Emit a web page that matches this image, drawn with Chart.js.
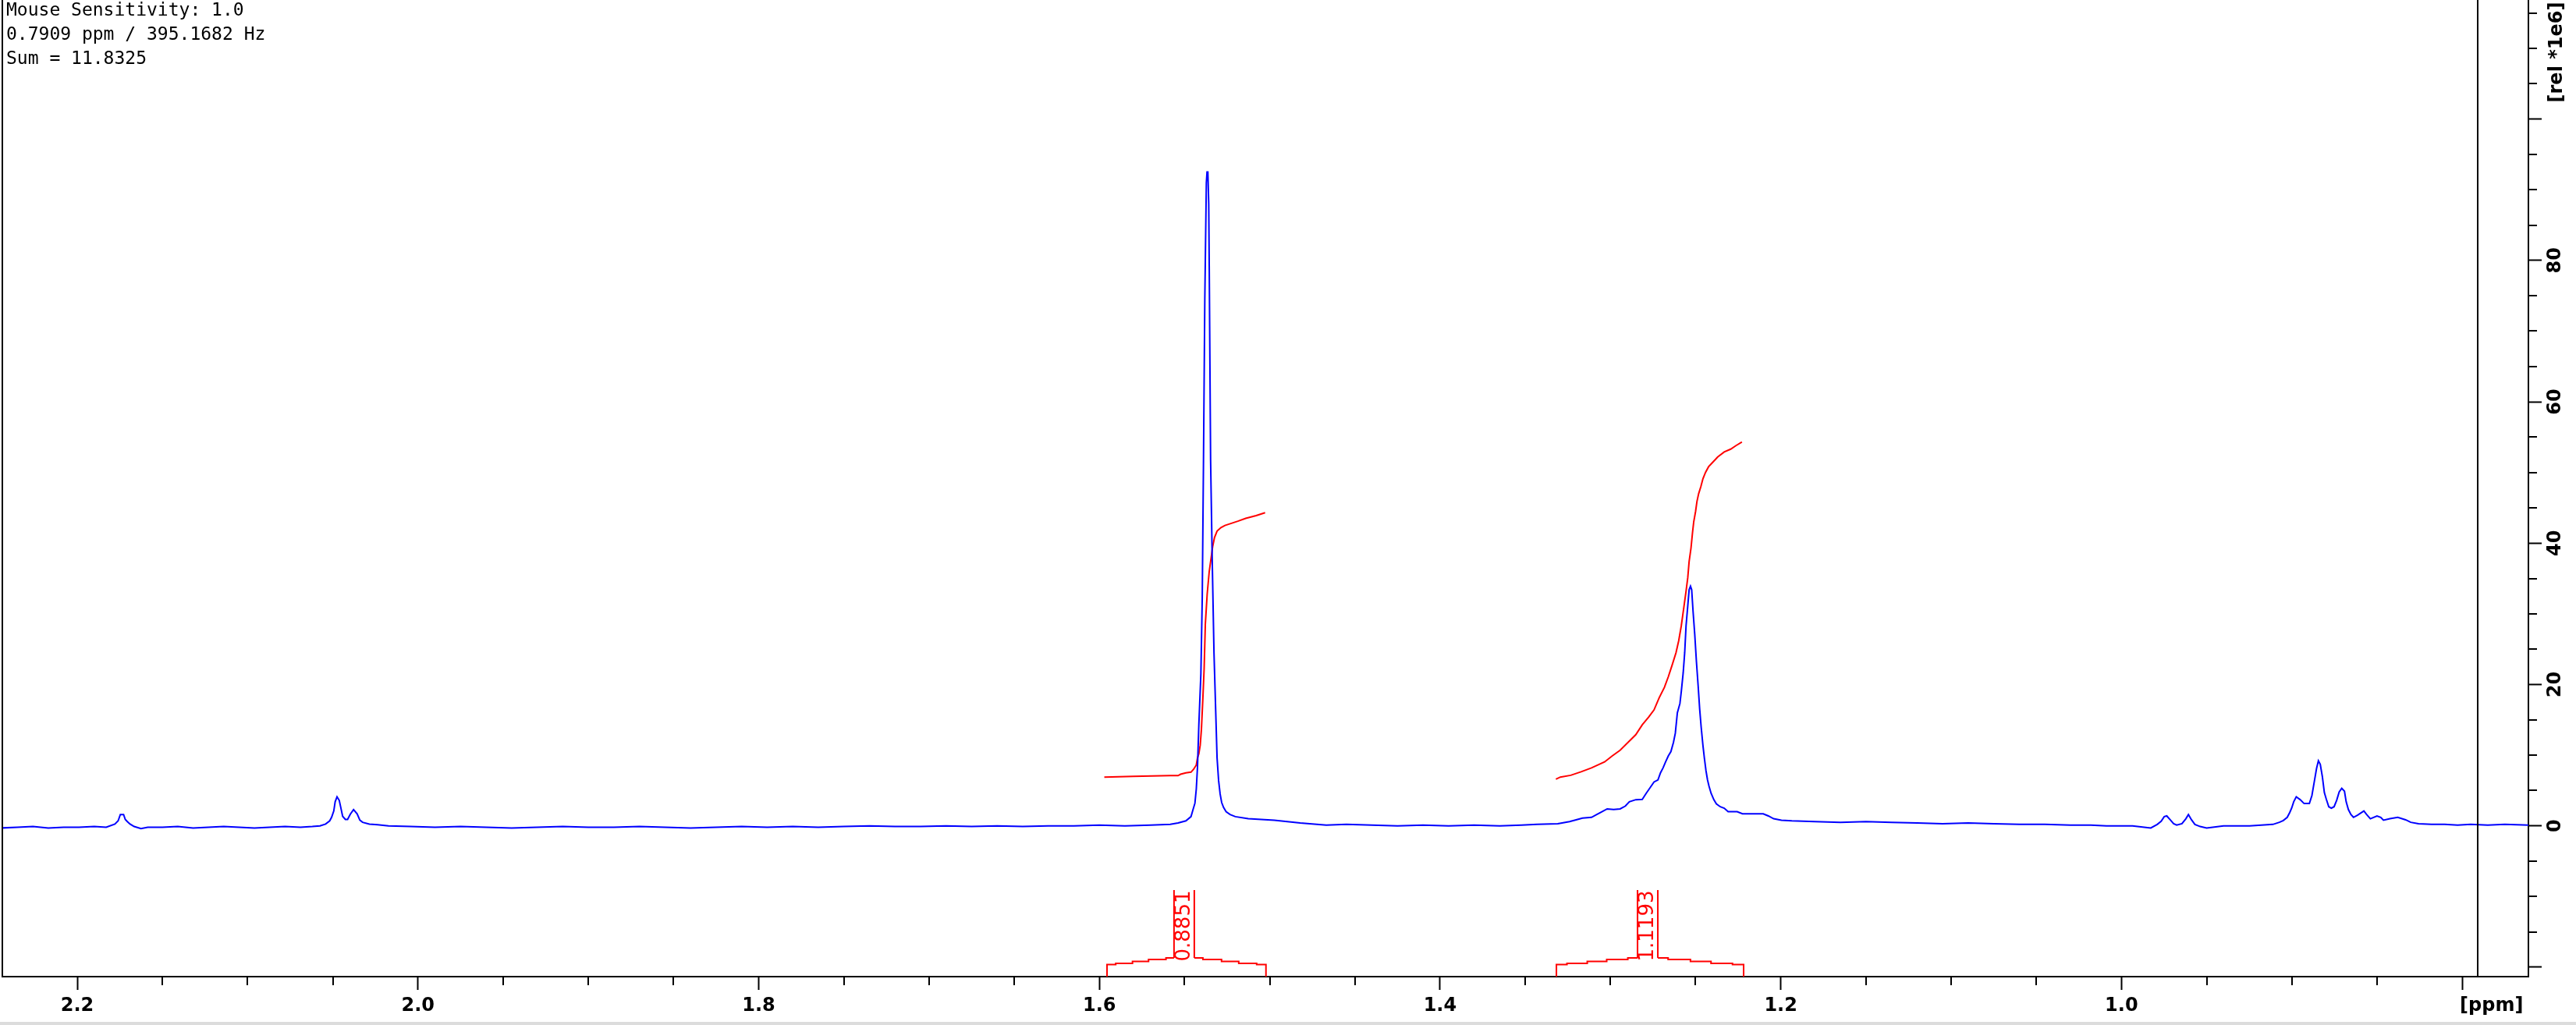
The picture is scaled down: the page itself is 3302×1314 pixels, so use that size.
<!DOCTYPE html>
<html><head><meta charset="utf-8">
<script src="https://cdn.jsdelivr.net/npm/chart.js@4.4.1/dist/chart.umd.min.js"></script>
<style>html,body{margin:0;padding:0;background:#fff;overflow:hidden}canvas{display:block}</style>
</head><body>
<canvas id="c" width="3302" height="1314"></canvas>
<script>
// ---- spectrum (ppm, intensity in 1e6 units) ----
const specPpm = [
2.244,2.235,2.226,2.217,2.208,2.199,2.190,2.183,2.1779,2.1760,2.1747,2.1728,2.1718,2.1706,2.1690,2.1666,2.1626,2.1586,
2.150,2.141,2.132,2.123,2.114,2.105,2.096,2.087,2.078,2.069,2.062,2.0575,
2.0542,2.0518,2.0507,2.0494,2.0486,2.0475,2.0462,2.0453,2.0442,2.0426,2.0413,2.0397,2.0378,2.0357,2.0341,2.0325,2.0285,2.0237,2.0173,2.0044,
1.990,1.975,1.960,1.945,1.930,1.915,1.900,1.885,1.870,1.855,1.840,1.825,1.810,1.795,1.780,1.765,1.750,1.735,1.720,1.705,1.690,1.675,1.660,1.645,1.630,1.615,1.600,1.585,1.570,
1.5584,1.5538,1.5492,1.5462,1.5450,1.5439,1.5431,1.5424,1.5416,1.5404,1.5396,1.5389,1.5381,1.5372,1.5368,1.5363,1.5358,1.5355,1.5347,1.5337,1.5327,1.5317,1.5309,1.5300,1.5291,1.5282,1.5271,1.5256,1.5233,1.5202,1.5126,1.4973,1.4821,1.4668,
1.455,1.440,1.425,1.410,1.395,1.380,1.365,
1.3523,1.3431,1.3309,1.3240,1.3210,1.3164,1.3111,1.3080,1.3050,1.3019,1.2981,1.2943,1.2912,1.2889,1.2851,1.2813,1.2790,1.2767,1.2744,1.2721,1.2706,1.2691,1.2676,1.2660,1.2645,1.2630,1.2619,1.2607,1.2592,1.2584,1.2573,1.2564,1.2556,1.2546,1.2538,1.2530,1.2523,1.2515,1.2505,1.2495,1.2485,1.2476,1.2467,1.2457,1.2448,1.2439,1.2430,1.2421,1.2409,1.2393,1.2378,1.2355,1.2332,1.2309,1.2256,1.2225,1.2103,1.2073,1.2042,1.1996,1.1935,
1.180,1.165,1.150,1.135,1.120,1.105,1.090,1.075,1.060,1.045,1.030,1.018,
1.0088,0.9935,0.9828,0.9790,0.9767,0.9749,0.9734,0.9714,0.9694,0.9676,0.9645,0.9622,0.9607,0.9589,0.9569,0.9538,0.9500,0.9401,0.9248,
0.9111,0.9073,0.9050,0.9027,0.9012,0.9001,0.8989,0.8974,0.8951,0.8928,0.8897,0.8882,0.8867,0.8855,0.8844,0.8833,0.8821,0.8809,0.8798,0.8783,0.8768,0.8752,0.8737,0.8722,0.8707,0.8691,0.8681,0.8668,0.8653,0.8638,0.8615,0.8577,0.8561,0.8539,0.8500,0.8478,0.8462,0.8424,0.8378,0.8332,0.8302,0.8256,0.8180,0.8103,0.8027,
0.795,0.785,0.775,0.761
];
const specVal = [
-0.3,-0.2,-0.1,-0.3,-0.2,-0.2,-0.1,-0.2,0.25,0.7,1.6,1.6,0.9,0.6,0.25,-0.1,-0.4,-0.2,
-0.2,-0.1,-0.3,-0.2,-0.1,-0.2,-0.3,-0.2,-0.1,-0.2,-0.1,0.0,
0.25,0.7,1.2,2.1,3.4,4.1,3.6,2.6,1.35,0.9,0.9,1.65,2.3,1.7,0.8,0.5,0.25,0.15,0.0,-0.1,
-0.2,-0.1,-0.2,-0.3,-0.2,-0.1,-0.2,-0.2,-0.1,-0.2,-0.3,-0.2,-0.1,-0.2,-0.1,-0.2,-0.1,0.0,-0.1,-0.1,0.0,-0.1,0.0,-0.1,0.0,0.0,0.1,0.0,0.1,
0.2,0.4,0.7,1.3,2.3,3.2,5.2,8.3,14.3,21.5,32.3,50.9,74.5,91.0,92.5,92.5,88.0,79.2,51.8,37.0,24.4,16.2,9.6,6.4,4.5,3.3,2.6,2.0,1.6,1.3,1.0,0.8,0.4,0.1,
0.2,0.1,0.0,0.1,0.0,0.1,0.0,
0.1,0.2,0.3,0.6,0.8,1.1,1.2,1.6,2.0,2.4,2.3,2.4,2.8,3.4,3.7,3.75,4.6,5.4,6.2,6.5,7.5,8.2,9.05,9.9,10.5,11.8,13.1,16.0,17.3,19.0,21.6,24.5,28.3,31.1,33.4,33.9,33.4,30.4,27.1,23.2,19.8,16.5,13.9,11.4,9.5,7.8,6.5,5.6,4.6,3.7,3.1,2.7,2.5,2.0,2.0,1.7,1.7,1.4,1.0,0.8,0.7,
0.6,0.5,0.6,0.5,0.4,0.3,0.4,0.3,0.2,0.2,0.1,0.1,
0.0,0.0,-0.3,0.2,0.65,1.3,1.4,0.85,0.3,0.1,0.3,1.0,1.6,0.85,0.2,-0.1,-0.3,0.0,0.0,
0.2,0.5,0.75,1.2,1.9,2.5,3.4,4.1,3.7,3.15,3.15,4.3,6.4,8.1,9.2,8.7,7.0,4.7,3.8,2.7,2.5,2.7,3.6,4.8,5.3,4.9,3.4,2.3,1.6,1.2,1.5,2.1,1.6,1.0,1.4,1.2,0.8,1.0,1.2,0.85,0.5,0.3,0.2,0.2,0.1,
0.2,0.1,0.2,0.1
];
// ---- integral curves ----
const int1Ppm = [1.5971,1.580,1.5584,1.5538,1.5523,1.5492,1.5462,1.5447,1.5431,1.5424,1.5416,1.5408,1.5401,1.5393,1.5385,1.5378,1.5367,1.5355,1.5344,1.5335,1.5324,1.5309,1.5286,1.5263,1.5225,1.5187,1.5141,1.5080,1.5027];
const int1Val = [6.9,7.0,7.1,7.1,7.3,7.5,7.6,8.0,8.6,9.6,10.2,11.4,13.6,17.7,22.2,28.5,32.8,36.0,37.9,39.5,40.8,41.7,42.2,42.5,42.8,43.1,43.5,43.9,44.3];
const int2Ppm = [1.3320,1.3294,1.3233,1.3172,1.3111,1.3034,1.2989,1.2943,1.2897,1.2851,1.2813,1.2775,1.2744,1.2714,1.2683,1.2660,1.2637,1.2615,1.2599,1.2584,1.2569,1.2556,1.2546,1.2538,1.2527,1.2518,1.2511,1.2500,1.2492,1.2482,1.2469,1.2457,1.2442,1.2424,1.2401,1.2370,1.2332,1.2294,1.2263,1.2228];
const int2Val = [6.6,6.9,7.15,7.65,8.2,9.05,9.9,10.7,11.8,12.9,14.3,15.4,16.4,18.1,19.6,21.1,22.8,24.5,26.2,28.3,30.9,33.2,35.1,37.4,39.3,41.5,43.0,44.5,45.9,47.0,48.0,49.1,50.0,50.8,51.4,52.2,52.9,53.3,53.8,54.3];
const intStart = [1.5955, 1.3317];
const intEnd = [1.5022, 1.2218];
const intLabels = ['0.8851', '1.1193'];
// ---- axes ----
const xMajorTicks = [0.8, 1.0, 1.2, 1.4, 1.6, 1.8, 2.0, 2.2];
const xMajorLabels = ['', '1.0', '1.2', '1.4', '1.6', '1.8', '2.0', '2.2'];
const xUnitLabel = '[ppm]';
const xUnitTick = 0.8;
const xMinorTicks = [0.85,0.9,0.95,1.05,1.1,1.15,1.25,1.3,1.35,1.45,1.5,1.55,1.65,1.7,1.75,1.85,1.9,1.95,2.05,2.1,2.15];
const yMajorTicks = [-20, 0, 20, 40, 60, 80, 100];
const yLabelTicks = [0, 20, 40, 60, 80];
const yLabels = ['0', '20', '40', '60', '80'];
const yMinorTicks = [-15,-10,-5,5,10,15,25,30,35,45,50,55,65,70,75,85,90,95,105,110,115];
const yTitle = '[rel *1e6]';
const infoLines = ['Mouse Sensitivity: 1.0', '0.7909 ppm / 395.1682 Hz', 'Sum = 11.8325'];
const cursorPpm = 0.7909;
const X_MIN = 0.76112, X_MAX = 2.24397, Y_MIN = -21.34, Y_MAX = 116.85;

const TICK_FONT = {family: '"DejaVu Sans"', weight: 'bold', size: 24};
const XPAD = 6;

const pts = (xs, ys) => xs.map((x, i) => ({x: x, y: ys[i]}));

const overlay = {
  id: 'overlay',
  afterDraw(chart) {
    const ctx = chart.ctx, xs = chart.scales.x, ys = chart.scales.y, ca = chart.chartArea;
    ctx.save();
    ctx.fillStyle = '#000';
    // left frame line
    ctx.fillRect(ca.left - 1, 0, 2, ca.bottom + 1);
    // cursor line
    const cx = Math.round(xs.getPixelForValue(cursorPpm));
    ctx.fillRect(cx - 1, 0, 2, ca.bottom);
    // minor ticks
    xMinorTicks.forEach(v => { const p = Math.round(xs.getPixelForValue(v)); ctx.fillRect(p - 1, ca.bottom, 2, 11); });
    yMinorTicks.forEach(v => { const p = Math.round(ys.getPixelForValue(v)); ctx.fillRect(ca.right, p - 1, 11, 2); });
    // unit label on x
    ctx.font = 'bold 24px "DejaVu Sans"';
    ctx.textAlign = 'left'; ctx.textBaseline = 'middle';
    ctx.fillText(xUnitLabel, xs.getPixelForValue(xUnitTick) - 3, ca.bottom + 17 + XPAD + 14.4);
    // y labels rotated
    ctx.font = 'bold 24px "DejaVu Sans"';
    ctx.textAlign = 'center'; ctx.textBaseline = 'middle';
    yLabelTicks.forEach((v, i) => {
      ctx.save(); ctx.translate(ca.right + 35, ys.getPixelForValue(v)); ctx.rotate(-Math.PI / 2);
      ctx.fillText(yLabels[i], 0, 0); ctx.restore();
    });
    ctx.save(); ctx.translate(ca.right + 37, 67); ctx.rotate(-Math.PI / 2);
    ctx.fillText(yTitle, 0, 0); ctx.restore();
    // integral brackets
    ctx.strokeStyle = '#ff0000'; ctx.fillStyle = '#ff0000'; ctx.lineWidth = 2;
    const fr = [0, 0.13, 0.38, 0.62, 0.88, 1];
    const lv = [15.5, 17, 19.5, 22, 24];
    intStart.forEach((s, i) => {
      const xa = xs.getPixelForValue(s), xb = xs.getPixelForValue(intEnd[i]);
      const xm = (xa + xb) / 2 - 3, hw = 13, b = ca.bottom;
      const L = (xm - hw) - xa, R = xb - (xm + hw);
      ctx.beginPath();
      ctx.moveTo(xa, b); ctx.lineTo(xa, b - lv[0]);
      for (let k = 0; k < 5; k++) {
        ctx.lineTo(xa + fr[k + 1] * L, b - lv[k]);
        if (k < 4) ctx.lineTo(xa + fr[k + 1] * L, b - lv[k + 1]);
      }
      ctx.moveTo(xb, b); ctx.lineTo(xb, b - lv[0]);
      for (let k = 0; k < 5; k++) {
        ctx.lineTo(xb - fr[k + 1] * R, b - lv[k]);
        if (k < 4) ctx.lineTo(xb - fr[k + 1] * R, b - lv[k + 1]);
      }
      ctx.moveTo(xm - hw, b - 24); ctx.lineTo(xm - hw, b - 111);
      ctx.moveTo(xm + hw, b - 24); ctx.lineTo(xm + hw, b - 111);
      ctx.stroke();
      ctx.save(); ctx.translate(xm, b - 110.5); ctx.rotate(-Math.PI / 2);
      ctx.font = '26px "DejaVu Sans"'; ctx.textAlign = 'right'; ctx.textBaseline = 'middle';
      ctx.fillText(intLabels[i], 0, 0); ctx.restore();
    });
    // info text
    ctx.fillStyle = '#000'; ctx.font = '23px "DejaVu Sans Mono"';
    ctx.textAlign = 'left'; ctx.textBaseline = 'alphabetic';
    infoLines.forEach((t, i) => ctx.fillText(t, 8, 20 + i * 31));
    // bottom strip
    ctx.fillStyle = '#dcdcdc'; ctx.fillRect(0, 1310, chart.width, 4);
    ctx.restore();
  }
};

const near = (a, b) => Math.abs(a - b) < 1e-6;

new Chart(document.getElementById('c'), {
  type: 'line',
  data: {
    datasets: [
      {data: pts(specPpm, specVal), borderColor: '#0000ff', borderWidth: 2, pointRadius: 0, tension: 0},
      {data: pts(int1Ppm, int1Val), borderColor: '#ff0000', borderWidth: 2, pointRadius: 0, tension: 0},
      {data: pts(int2Ppm, int2Val), borderColor: '#ff0000', borderWidth: 2, pointRadius: 0, tension: 0}
    ]
  },
  options: {
    responsive: false, animation: false, devicePixelRatio: 1,
    layout: {padding: {left: 3, right: 0, top: 0, bottom: 0}},
    plugins: {legend: {display: false}, tooltip: {enabled: false}},
    scales: {
      x: {
        type: 'linear', reverse: true, min: X_MIN, max: X_MAX,
        afterBuildTicks: s => { s.ticks = xMajorTicks.map(v => ({value: v})); },
        afterFit: s => { s.height = 62; },
        border: {display: true, color: '#000', width: 2},
        grid: {drawOnChartArea: false, drawTicks: true, tickLength: 17, tickWidth: 2, tickColor: '#000'},
        ticks: {
          autoSkip: false, maxRotation: 0, minRotation: 0, padding: XPAD, color: '#000', font: TICK_FONT,
          callback: v => { const i = xMajorTicks.findIndex(t => near(t, v)); return i >= 0 ? xMajorLabels[i] : ''; }
        }
      },
      y: {
        type: 'linear', position: 'right', min: Y_MIN, max: Y_MAX,
        afterBuildTicks: s => { s.ticks = yMajorTicks.map(v => ({value: v})); },
        afterFit: s => { s.width = 61; },
        border: {display: true, color: '#000', width: 2},
        grid: {drawOnChartArea: false, drawTicks: true, tickLength: 17, tickWidth: 2, tickColor: '#000'},
        ticks: {display: false}
      }
    }
  },
  plugins: [overlay]
});
</script>
</body></html>
